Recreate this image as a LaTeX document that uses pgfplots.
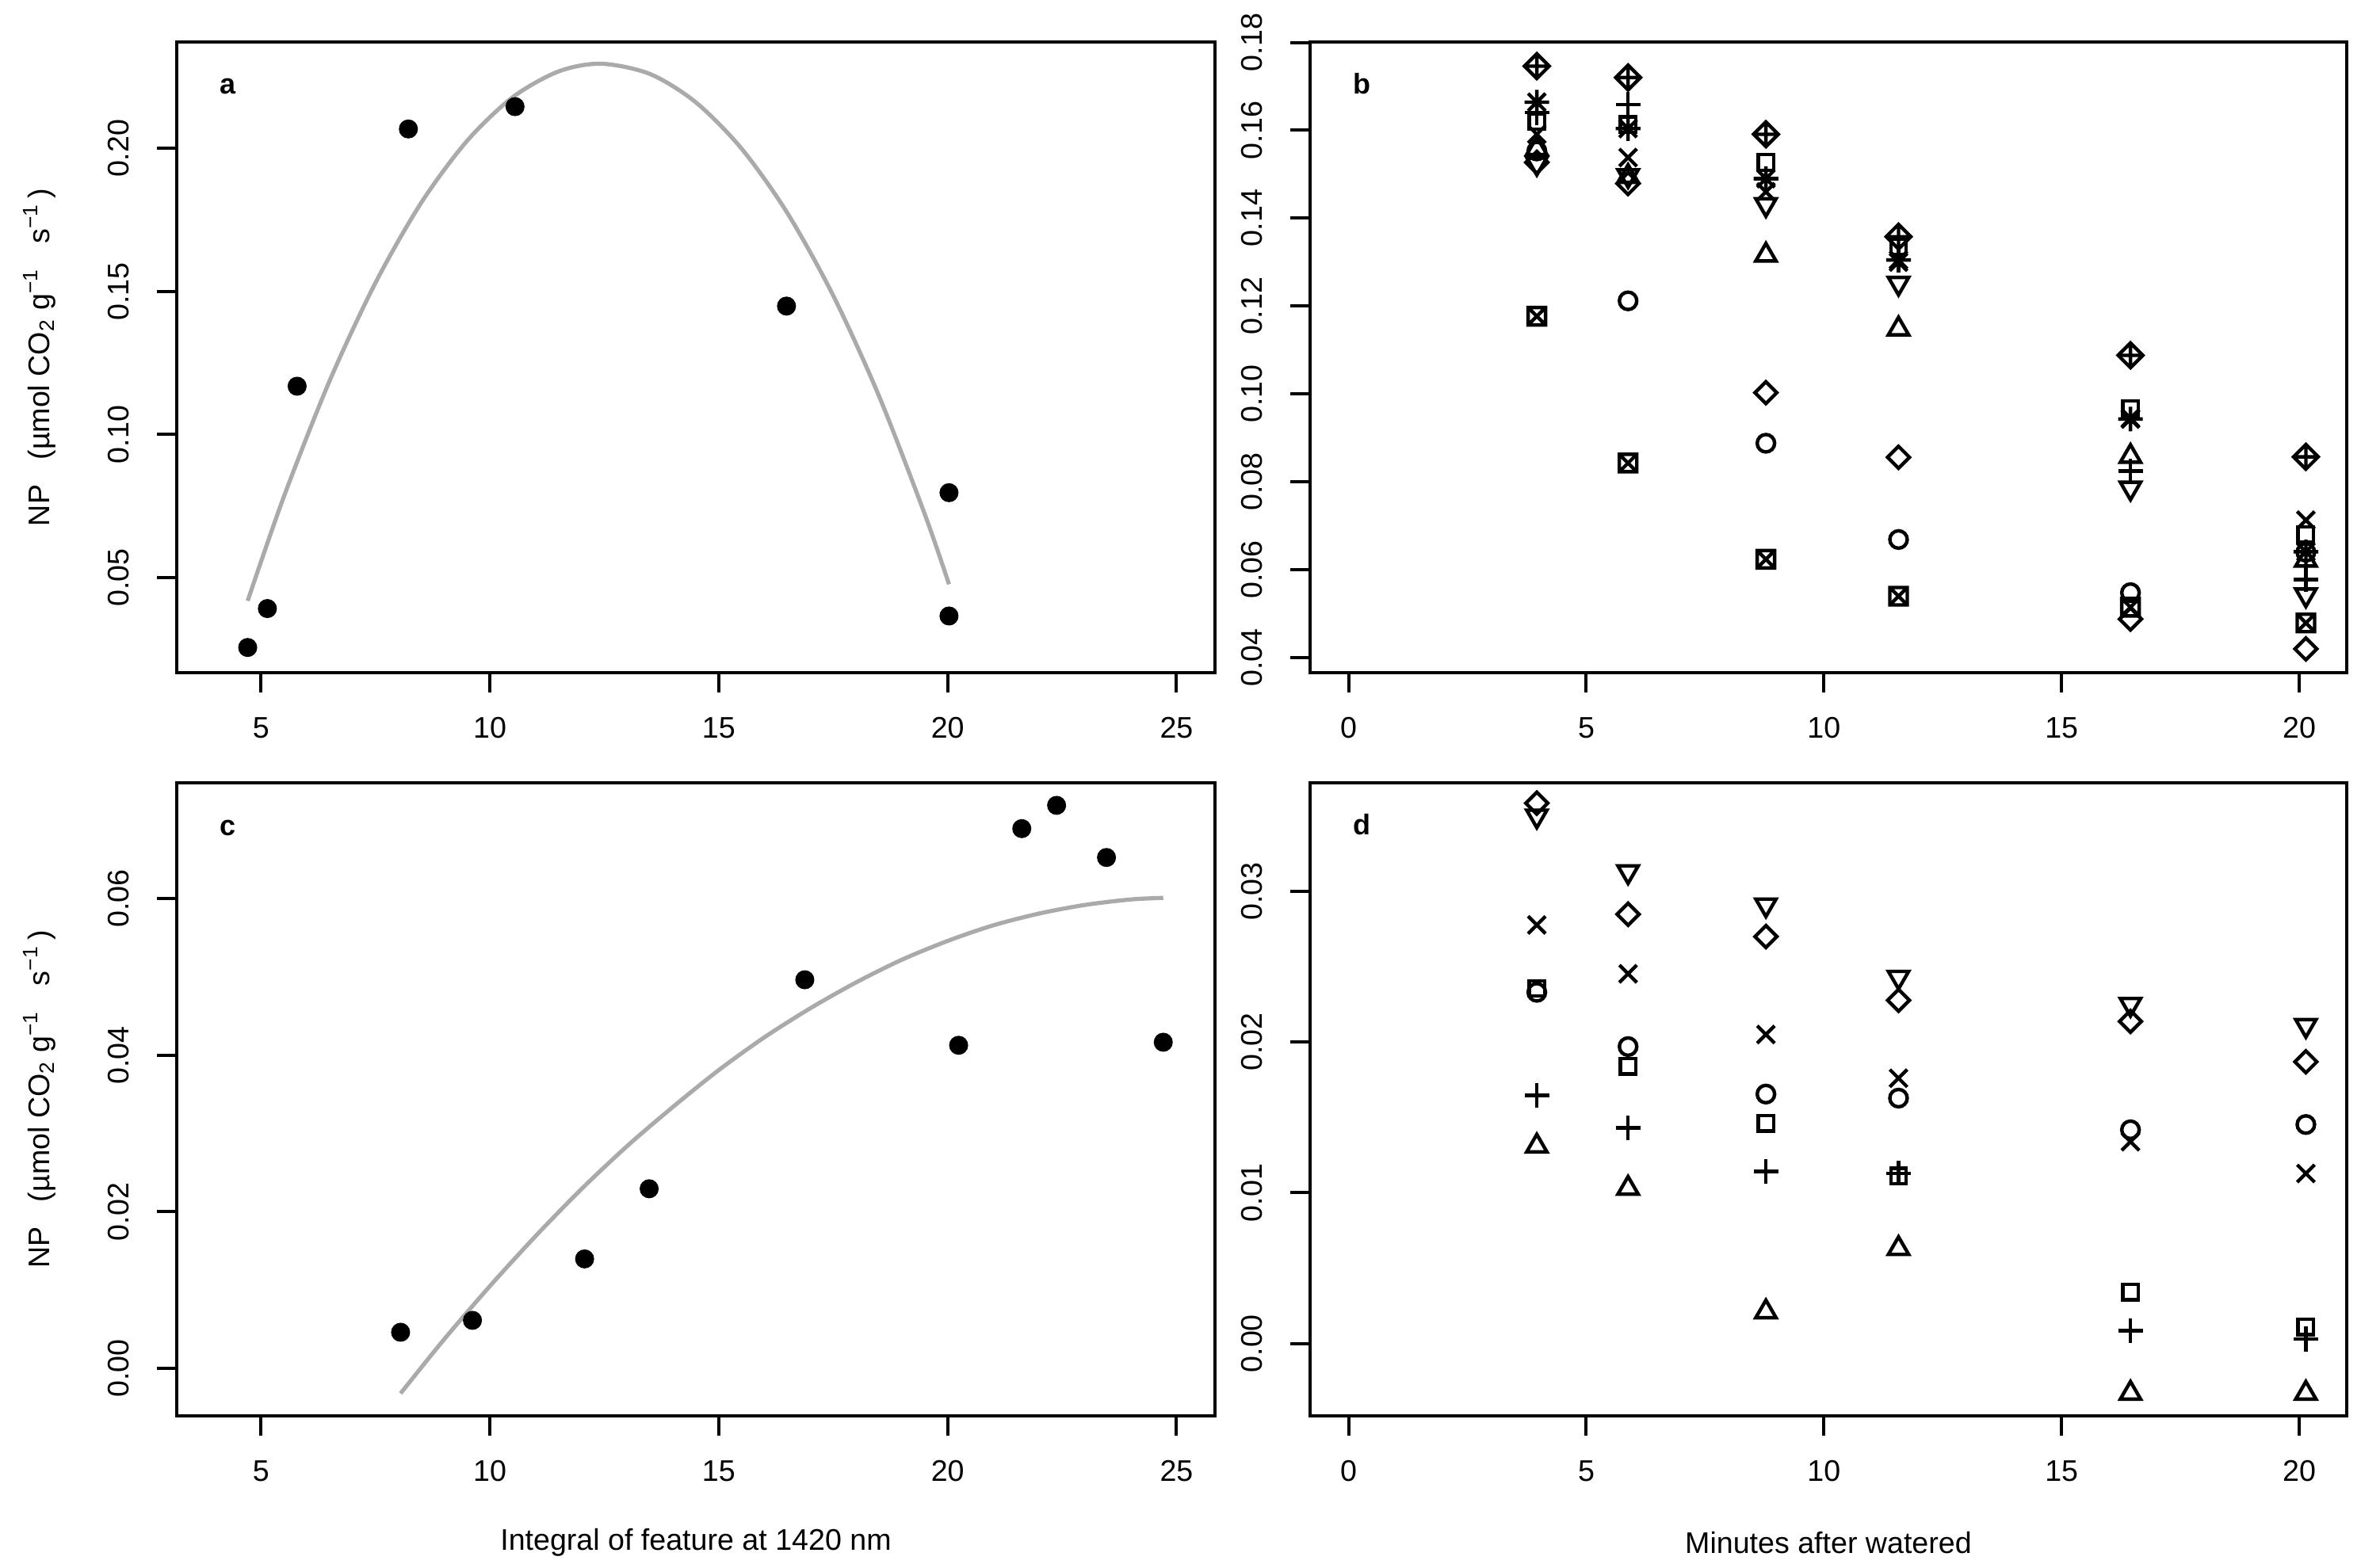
\documentclass[border=0pt]{standalone}
\usepackage{fontspec}
\setmainfont{Liberation Sans}
\usepackage{pgfplots}
\pgfplotsset{compat=1.18}

% R-like plot symbols
\pgfdeclareplotmark{rdiamond}{%
  \pgfpathmoveto{\pgfqpoint{0pt}{\pgfplotmarksize}}%
  \pgfpathlineto{\pgfqpoint{\pgfplotmarksize}{0pt}}%
  \pgfpathlineto{\pgfqpoint{0pt}{-\pgfplotmarksize}}%
  \pgfpathlineto{\pgfqpoint{-\pgfplotmarksize}{0pt}}%
  \pgfpathclose
  \pgfusepathqstroke}
\pgfdeclareplotmark{rboxx}{%
  \pgfpathrectangle{\pgfqpoint{-\pgfplotmarksize}{-\pgfplotmarksize}}{\pgfqpoint{2\pgfplotmarksize}{2\pgfplotmarksize}}%
  \pgfpathmoveto{\pgfqpoint{-\pgfplotmarksize}{-\pgfplotmarksize}}%
  \pgfpathlineto{\pgfqpoint{\pgfplotmarksize}{\pgfplotmarksize}}%
  \pgfpathmoveto{\pgfqpoint{-\pgfplotmarksize}{\pgfplotmarksize}}%
  \pgfpathlineto{\pgfqpoint{\pgfplotmarksize}{-\pgfplotmarksize}}%
  \pgfusepathqstroke}
\pgfdeclareplotmark{rstar}{%
  \pgfpathmoveto{\pgfqpoint{-\pgfplotmarksize}{-\pgfplotmarksize}}%
  \pgfpathlineto{\pgfqpoint{\pgfplotmarksize}{\pgfplotmarksize}}%
  \pgfpathmoveto{\pgfqpoint{-\pgfplotmarksize}{\pgfplotmarksize}}%
  \pgfpathlineto{\pgfqpoint{\pgfplotmarksize}{-\pgfplotmarksize}}%
  \pgfpathmoveto{\pgfqpoint{-1.4142\pgfplotmarksize}{0pt}}%
  \pgfpathlineto{\pgfqpoint{1.4142\pgfplotmarksize}{0pt}}%
  \pgfpathmoveto{\pgfqpoint{0pt}{-1.4142\pgfplotmarksize}}%
  \pgfpathlineto{\pgfqpoint{0pt}{1.4142\pgfplotmarksize}}%
  \pgfusepathqstroke}
\pgfdeclareplotmark{rdiaplus}{%
  \pgfpathmoveto{\pgfqpoint{0pt}{1.4142\pgfplotmarksize}}%
  \pgfpathlineto{\pgfqpoint{1.4142\pgfplotmarksize}{0pt}}%
  \pgfpathlineto{\pgfqpoint{0pt}{-1.4142\pgfplotmarksize}}%
  \pgfpathlineto{\pgfqpoint{-1.4142\pgfplotmarksize}{0pt}}%
  \pgfpathclose
  \pgfpathmoveto{\pgfqpoint{-1.4142\pgfplotmarksize}{0pt}}%
  \pgfpathlineto{\pgfqpoint{1.4142\pgfplotmarksize}{0pt}}%
  \pgfpathmoveto{\pgfqpoint{0pt}{-1.4142\pgfplotmarksize}}%
  \pgfpathlineto{\pgfqpoint{0pt}{1.4142\pgfplotmarksize}}%
  \pgfusepathqstroke}

\definecolor{fitgray}{RGB}{170,170,170}

\pgfplotsset{
  rpanel/.style={
    scale only axis,
    font=\fontsize{9.4}{11}\selectfont,
    axis line style={line width=1pt},
    every tick/.style={black, line width=1pt},
    major tick length=6.25pt,
    tick align=outside,
    xtick pos=left, ytick pos=left,
    scaled y ticks=false, scaled x ticks=false,
    /pgf/number format/assume math mode=true,
    xticklabel style={anchor=center, yshift=-11.25pt},
    yticklabel style={xshift=-12pt, rotate=90, anchor=center},
    ylabel style={at={([xshift=-43.25pt]axis description cs:0,0.5)}, anchor=center},
    xlabel style={at={([yshift=-40pt]axis description cs:0.5,0)}, anchor=center},
    clip=false,
  },
  dots/.style={only marks, mark=*, mark size=2.8pt, black, mark options={fill=black}},
  fit/.style={no marks, smooth, fitgray, line width=1.3pt},
  pch/.style={only marks, black, mark options={line width=1.1pt, fill=none, solid}},
  pchdown/.style={only marks, black, mark=triangle,
    mark options={line width=1.1pt, fill=none, solid, rotate=180}},
}

\newcommand{\npunit}{NP\ \ \ (µmol CO\textsubscript{2} g\textsuperscript{−1}\ \ \ s\textsuperscript{−1}\,)}
\newcommand{\plabel}[1]{\node[font=\fontsize{9}{10}\selectfont\bfseries, anchor=base]
  at ([xshift=16.25pt, yshift=-16.5pt]rel axis cs:0,1) {#1};}

\begin{document}
\begin{tikzpicture}
\path[use as bounding box] (0pt,0pt) rectangle (744.75pt,494.75pt);

% ---- a ----
\begin{axis}[rpanel, at={(55.75pt,282.5pt)}, anchor=south west,
  width=327.5pt, height=199pt,
  xmin=3.16, xmax=25.84, ymin=0.0168, ymax=0.2372,
  xtick={5,10,15,20,25}, xticklabels={5,10,15,20,25},
  ytick={0.05,0.10,0.15,0.20}, yticklabels={0.05,0.10,0.15,0.20},
  ylabel={\npunit}]
\addplot[fit] coordinates {
  (4.71,0.0419) (5.5,0.0783) (6.5,0.1188) (7.5,0.1530) (8.5,0.1810)
  (9.5,0.2026) (10.5,0.2179) (11.5,0.2269) (12.43,0.2296) (13.5,0.2260)
  (14.5,0.2161) (15.5,0.1999) (16.5,0.1774) (17.5,0.1486) (18.5,0.1135)
  (19.5,0.0722) (20.03,0.0477)};
\addplot[dots] coordinates {
  (4.71,0.0256) (5.14,0.0392) (5.79,0.1169) (8.22,0.2068)
  (10.55,0.2146) (16.48,0.1449) (20.03,0.0797) (20.03,0.0366)};
\plabel{a}
\end{axis}

% ---- b ----
\begin{axis}[rpanel, at={(413.25pt,282.5pt)}, anchor=south west,
  width=327pt, height=199pt,
  xmin=-0.81, xmax=21.0, ymin=0.0366, ymax=0.1801,
  xtick={0,5,10,15,20}, xticklabels={0,5,10,15,20},
  ytick={0.04,0.06,0.08,0.10,0.12,0.14,0.16,0.18},
  yticklabels={0.04,0.06,0.08,0.10,0.12,0.14,0.16,0.18}]
% square
\addplot[pch, mark=square, mark size=2.44pt] coordinates {
  (3.96,0.1620) (5.88,0.1613) (8.78,0.1527) (11.57,0.1335) (16.45,0.0967) (20.14,0.0680)};
% circle
\addplot[pch, mark=o, mark size=2.75pt] coordinates {
  (3.96,0.1553) (5.88,0.1212) (8.78,0.0888) (11.57,0.0669) (16.45,0.0548) (20.14,0.0640)};
% triangle up
\addplot[pch, mark=triangle, mark size=3.69pt] coordinates {
  (3.96,0.1558) (5.88,0.1495) (8.78,0.1316) (11.57,0.1148) (16.45,0.0858) (20.14,0.0622)};
% plus
\addplot[pch, mark=+, mark size=3.89pt] coordinates {
  (3.96,0.1640) (5.88,0.1659) (8.78,0.1490) (11.57,0.1305) (16.45,0.0825) (20.14,0.0578)};
% cross
\addplot[pch, mark=x, mark size=3.89pt] coordinates {
  (3.96,0.1591) (5.88,0.1538) (8.78,0.1460) (11.57,0.1300) (16.45,0.0945) (20.14,0.0713)};
% diamond
\addplot[pch, mark=rdiamond, mark size=3.45pt] coordinates {
  (3.96,0.1527) (5.88,0.1479) (8.78,0.1003) (11.57,0.0856) (16.45,0.0488) (20.14,0.0420)};
% triangle down
\addplot[pchdown, mark size=3.69pt] coordinates {
  (3.96,0.1525) (5.88,0.1497) (8.78,0.1431) (11.57,0.1252) (16.45,0.0786) (20.14,0.0543)};
% boxed cross
\addplot[pch, mark=rboxx, mark size=2.75pt] coordinates {
  (3.96,0.1177) (5.88,0.0843) (8.78,0.0624) (11.57,0.0540) (16.45,0.0515) (20.14,0.0479)};
% asterisk
\addplot[pch, mark=rstar, mark size=2.75pt] coordinates {
  (3.96,0.1664) (5.88,0.1604) (8.78,0.1490) (11.57,0.1305) (16.45,0.0943) (20.14,0.0641)};
% diamond plus
\addplot[pch, mark=rdiaplus, mark size=2.75pt] coordinates {
  (3.96,0.1746) (5.88,0.1720) (8.78,0.1591) (11.57,0.1358) (16.45,0.1088) (20.14,0.0857)};
\plabel{b}
\end{axis}

% ---- c ----
\begin{axis}[rpanel, at={(55.75pt,48pt)}, anchor=south west,
  width=327.5pt, height=199.75pt,
  xmin=3.16, xmax=25.84, ymin=-0.00607, ymax=0.0748,
  xtick={5,10,15,20,25}, xticklabels={5,10,15,20,25},
  ytick={0,0.02,0.04,0.06}, yticklabels={0.00,0.02,0.04,0.06},
  ylabel={\npunit}, xlabel={Integral of feature at 1420 nm}]
\addplot[fit] coordinates {
  (8.05,-0.0032) (9,0.0037) (10,0.0105) (11,0.0169) (12,0.0229) (13,0.0284)
  (14,0.0334) (15,0.0381) (16,0.0423) (17,0.0460) (18,0.0493) (19,0.0522)
  (20,0.0546) (21,0.0566) (22,0.0581) (23,0.0592) (24,0.0599) (24.71,0.0601)};
\addplot[dots] coordinates {
  (8.05,0.00461) (9.62,0.00613) (12.07,0.01398) (13.48,0.02294) (16.88,0.04964)
  (20.24,0.04127) (21.62,0.06895) (22.38,0.07192) (23.47,0.06526) (24.71,0.04166)};
\plabel{c}
\end{axis}

% ---- d ----
\begin{axis}[rpanel, at={(413.25pt,48pt)}, anchor=south west,
  width=327pt, height=199.75pt,
  xmin=-0.81, xmax=21.0, ymin=-0.0048, ymax=0.0372,
  xtick={0,5,10,15,20}, xticklabels={0,5,10,15,20},
  ytick={0,0.01,0.02,0.03}, yticklabels={0.00,0.01,0.02,0.03},
  xlabel={Minutes after watered}]
\addplot[pch, mark=square, mark size=2.44pt] coordinates {
  (3.96,0.02356) (5.88,0.01839) (8.78,0.01461) (11.57,0.01111) (16.45,0.00342) (20.14,0.0011)};
\addplot[pch, mark=o, mark size=2.75pt] coordinates {
  (3.96,0.0233) (5.88,0.0197) (8.78,0.01655) (11.57,0.01628) (16.45,0.01418) (20.14,0.01453)};
\addplot[pch, mark=triangle, mark size=3.69pt] coordinates {
  (3.96,0.0131) (5.88,0.0103) (8.78,0.0021) (11.57,0.0063) (16.45,-0.0033) (20.14,-0.0033)};
\addplot[pch, mark=+, mark size=3.89pt] coordinates {
  (3.96,0.01646) (5.88,0.0143) (8.78,0.01142) (11.57,0.0113) (16.45,0.00084) (20.14,0.0003)};
\addplot[pch, mark=x, mark size=3.89pt] coordinates {
  (3.96,0.02777) (5.88,0.02453) (8.78,0.0205) (11.57,0.0176) (16.45,0.01339) (20.14,0.01128)};
\addplot[pch, mark=rdiamond, mark size=3.45pt] coordinates {
  (3.96,0.03585) (5.88,0.02848) (8.78,0.0270) (11.57,0.02277) (16.45,0.02137) (20.14,0.01869)};
\addplot[pchdown, mark size=3.69pt] coordinates {
  (3.96,0.0350) (5.88,0.0313) (8.78,0.0291) (11.57,0.0243) (16.45,0.0225) (20.14,0.0211)};
\plabel{d}
\end{axis}
\end{tikzpicture}
\end{document}
